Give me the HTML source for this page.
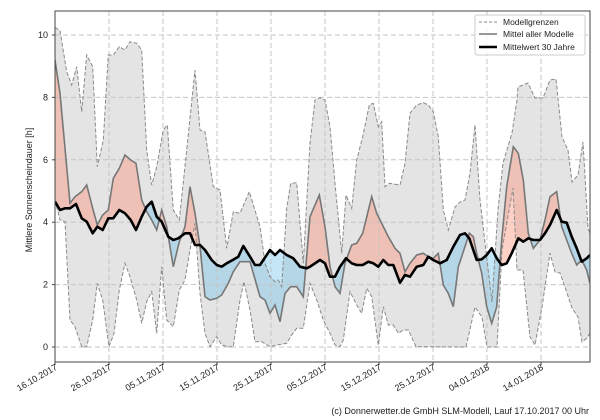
<!DOCTYPE html>
<html><head><meta charset="utf-8"><style>
html,body{margin:0;padding:0;background:#fff;}
svg{display:block;font-family:"Liberation Sans",sans-serif;}
</style></head><body>
<svg id="s" width="600" height="420" viewBox="0 0 600 420" xmlns="http://www.w3.org/2000/svg"></svg>
<script>
function conv(a1,a2){var p=[];for(var i=0;i<a1.length;i+=2){var x=40+a1[i]/3;if(x<310)p.push([x,a1[i+1]/3]);}
for(var i=0;i<a2.length;i+=2){var x=310+a2[i]/3;if(x>=310)p.push([Math.min(x,590),a2[i+1]/3]);}
p[0][0]=55;return p;}
var up=conv([45,82,60,92,80,215,95,255,110,200,125,335,140,165,158,200,172,500,190,420,205,165,220,165,238,140,255,150,270,125,290,130,305,150,320,450,335,555,350,500,370,390,382,375,400,630,418,660,438,470,465,210,480,390,495,395,520,560,540,570,560,745,580,635,600,640,628,575,660,680,675,790,690,830,705,845,715,840,725,860,740,625,752,550,770,548,790,790,810,690],
[0,430,15,300,30,293,45,300,60,380,75,550,95,760,108,585,125,625,140,480,158,410,178,315,190,310,205,380,215,365,225,560,238,550,270,555,285,490,300,340,320,315,340,308,355,315,370,335,385,410,400,630,415,690,435,621,450,606,465,600,480,520,495,375,510,600,531,780,546,906,564,630,579,489,606,399,621,300,624,261,654,249,675,294,699,294,720,240,738,237,756,411,774,450,786,546,804,525,819,426,834,684,840,700]);
var lo=conv([45,600,60,660,75,665,90,960,105,980,125,1040,140,1040,158,960,172,850,188,900,207,1040,222,1000,238,870,255,790,270,830,290,900,305,970,320,905,335,875,350,1000,365,800,380,960,400,980,418,870,435,840,450,750,465,670,480,880,495,1000,510,1040,530,1010,545,1035,565,1040,580,1040,600,900,612,845,630,930,645,1025,665,1025,690,1040,710,1035,740,1030,755,1005,770,985,790,985,810,910],
[0,850,20,900,40,960,60,1000,75,1035,90,1040,100,1020,120,875,140,915,155,940,170,865,185,890,205,1035,220,920,235,975,250,975,265,1000,280,990,295,990,318,1040,468,1041,495,921,516,951,531,1041,561,1041,576,750,609,564,621,810,639,810,660,1011,675,1035,696,921,720,759,735,816,750,819,771,879,786,924,804,951,816,1026,831,1014,840,999]);
var me=conv([45,180,60,280,90,610,105,590,125,575,140,555,158,625,172,675,188,645,205,630,220,535,238,505,255,465,272,480,288,490,305,600,320,635,335,660,350,690,365,630,380,680,400,800,418,725,435,680,450,560,465,640,480,740,495,890,510,900,530,895,545,885,565,850,580,815,600,785,630,785,660,890,675,900,690,940,705,915,720,965,735,880,752,860,770,860,790,890,810,760],
[0,650,28,585,45,680,60,800,75,860,90,880,105,790,125,735,140,730,158,700,185,590,200,640,215,670,235,710,255,745,270,760,285,815,300,790,320,765,340,760,355,770,370,775,385,760,400,855,415,880,430,920,445,800,460,755,478,700,490,710,500,760,515,820,530,920,545,970,560,920,575,720,590,560,610,440,625,460,640,540,655,700,670,745,690,720,705,660,720,590,740,575,755,680,770,720,785,760,800,795,815,780,830,810,840,850]);
var th=conv([45,605,60,630,75,625,90,625,108,612,125,655,140,665,158,700,172,680,188,690,205,655,220,655,238,630,255,640,272,660,288,690,305,650,320,620,335,605,350,650,365,665,385,710,400,720,415,715,435,700,450,700,465,735,480,735,495,750,515,780,530,795,545,800,560,790,578,780,595,770,610,738,630,770,645,795,660,795,690,750,705,765,720,750,740,765,760,775,780,800,800,805],
[0,800,30,780,45,790,60,830,75,830,90,800,108,775,125,790,140,795,158,795,175,785,190,790,205,800,220,780,235,795,250,795,270,848,285,825,300,830,320,800,340,795,355,770,370,780,390,790,410,780,430,740,450,705,465,700,478,715,490,750,500,780,515,778,530,765,545,745,560,775,575,795,590,790,605,760,625,715,640,725,655,715,670,720,690,720,705,700,720,675,740,630,755,665,770,668,785,710,800,745,815,785,830,775,840,765]);
function P(a){return a.map(function(p){return p[0].toFixed(1)+","+p[1].toFixed(1)}).join(" ");}
var rev=function(a){return a.slice().reverse();};
var h='';
h+='<defs><clipPath id="ab"><polygon points="'+P(th)+' 590,0 55,0"/></clipPath><clipPath id="be"><polygon points="'+P(th)+' 590,420 55,420"/></clipPath><clipPath id="pl"><rect x="55" y="11" width="535" height="351"/></clipPath></defs>';
h+='<g clip-path="url(#pl)">';
h+='<polygon points="'+P(up)+' '+P(rev(lo))+'" fill="#e4e4e4"/>';
var band=P(me)+' '+P(rev(th));
h+='<polygon points="'+band+'" fill="#ff8c70" fill-opacity="0.4" clip-path="url(#ab)"/>';
h+='<polygon points="'+band+'" fill="#6cc0e8" fill-opacity="0.4" clip-path="url(#be)"/>';
var g='';
for(var i=0;i<10;i++){var x=55+54*i;g+='<line x1="'+x+'" y1="11" x2="'+x+'" y2="362"/>';}
for(var v=0;v<=10;v+=2){var y=347-31.2*v;g+='<line x1="55" y1="'+y+'" x2="590" y2="'+y+'"/>';}
h+='<g stroke="#c4c4c4" stroke-width="1" stroke-dasharray="5,3">'+g+'</g>';
h+='<polyline points="'+P(up)+'" fill="none" stroke="#8a8a8a" stroke-width="1" stroke-dasharray="4,2"/>';
h+='<polyline points="'+P(lo)+'" fill="none" stroke="#8a8a8a" stroke-width="1" stroke-dasharray="4,2"/>';
h+='<polyline points="'+P(me)+'" fill="none" stroke="#777" stroke-width="1.6"/>';
h+='<polyline points="'+P(th)+'" fill="none" stroke="#000" stroke-width="2.6" stroke-linejoin="round"/>';
h+='</g>';
h+='<rect x="55" y="11" width="535" height="351" fill="none" stroke="#444" stroke-width="1"/>';
for(var v=0;v<=10;v+=2){var y=347-31.2*v;h+='<line x1="52" y1="'+y+'" x2="55" y2="'+y+'" stroke="#444"/><text x="48" y="'+(y+3)+'" font-size="9" text-anchor="end" fill="#222">'+v+'</text>';}
var labs=["16.10.2017","26.10.2017","05.11.2017","15.11.2017","25.11.2017","05.12.2017","15.12.2017","25.12.2017","04.01.2018","14.01.2018"];
for(var i=0;i<10;i++){var x=55+54*i;h+='<line x1="'+x+'" y1="362" x2="'+x+'" y2="365" stroke="#444"/><text transform="translate('+(x+3)+',369) rotate(-30)" font-size="9" text-anchor="end" fill="#222">'+labs[i]+'</text>';}
h+='<text transform="translate(32,190) rotate(-90)" font-size="9" text-anchor="middle" fill="#222">Mittlere Sonnenscheindauer [h]</text>';
h+='<text x="589" y="414" font-size="9" text-anchor="end" fill="#222">(c) Donnerwetter.de GmbH SLM-Modell, Lauf 17.10.2017 00 Uhr</text>';
h+='<rect x="475" y="15" width="110" height="40" fill="#fff" fill-opacity="0.85" stroke="#ccc" rx="2"/>';
h+='<line x1="479" y1="22" x2="497" y2="22" stroke="#8a8a8a" stroke-dasharray="3,2"/><text x="503" y="25" font-size="8.5" fill="#222">Modellgrenzen</text>';
h+='<line x1="479" y1="34" x2="497" y2="34" stroke="#777" stroke-width="1.6"/><text x="503" y="37" font-size="8.5" fill="#222">Mittel aller Modelle</text>';
h+='<line x1="479" y1="47" x2="497" y2="47" stroke="#000" stroke-width="2.6"/><text x="503" y="50" font-size="8.5" fill="#222">Mittelwert 30 Jahre</text>';
document.getElementById('s').innerHTML=h;
</script>
</body></html>
